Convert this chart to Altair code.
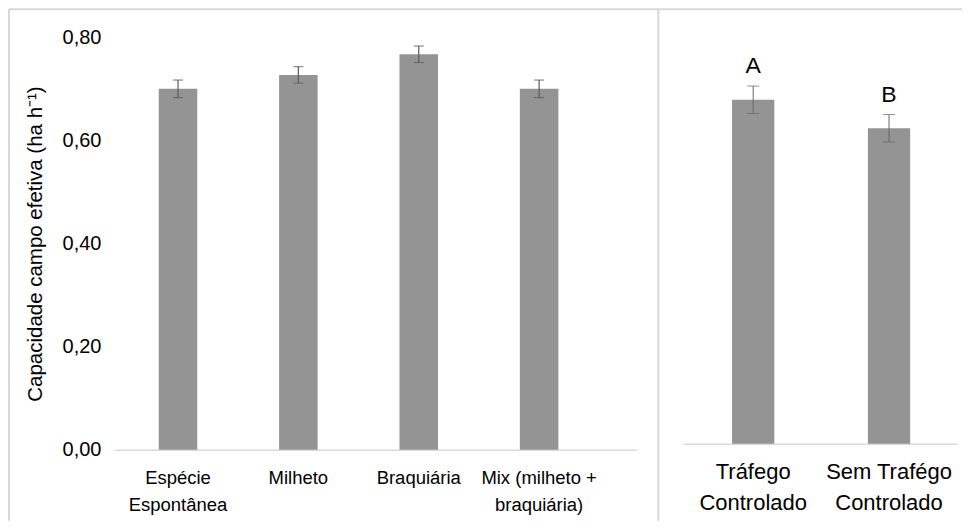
import altair as alt
import pandas as pd

# ---- data ----
left_categories = ["Espécie\nEspontânea", "Milheto", "Braquiária", "Mix (milheto +\nbraquiária)"]
left_values = [0.700, 0.727, 0.767, 0.700]
left_errors = [0.017, 0.016, 0.016, 0.017]

right_categories = ["Tráfego\nControlado", "Sem Trafégo\nControlado"]
right_values = [0.677, 0.621]
right_errors = [0.027, 0.027]
right_letters = ["A", "B"]

y_ticks = [0.0, 0.2, 0.4, 0.6, 0.8]
y_title = "Capacidade campo efetiva (ha h⁻¹)"

FONT = "Liberation Sans"
BAR = "#949494"
ERR = "#595959"
BORDER = "#d9d9d9"

ldf = pd.DataFrame({"cat": left_categories, "val": left_values, "err": left_errors})
rdf = pd.DataFrame({"cat": right_categories, "val": right_values, "err": right_errors,
                    "letter": right_letters})
deco = pd.DataFrame({"k": [0]})

# ---------------- left panel ----------------
base_l = alt.Chart(ldf).transform_calculate(
    lo="datum.val - datum.err", hi="datum.val + datum.err")

xl = alt.X("cat:N", sort=left_categories, title=None,
           scale=alt.Scale(paddingInner=0.68, paddingOuter=0.506, align=0.36),
           axis=alt.Axis(labelAngle=0, ticks=False, domainColor=BORDER, domainWidth=1.5,
                         labelFontSize=18.5, labelColor="#000000", labelPadding=19,
                         labelLineHeight=27, labelOverlap=False,
                         labelExpr="split(datum.label, '\\n')"))
ysc = alt.Scale(domain=[0, 0.8], nice=False, zero=True)
yl = alt.Y("val:Q", scale=ysc,
           axis=alt.Axis(values=y_ticks,
                         labelExpr="replace(format(datum.value, '.2f'), '.', ',')",
                         grid=False, domain=False, ticks=False, labelFontSize=20,
                         labelPadding=14, labelColor="#000000", title=y_title,
                         titleFontSize=20.5, titleFontWeight="normal", titleColor="#000000",
                         titlePadding=17))

bars_l = base_l.mark_bar(color=BAR).encode(x=xl, y=yl)
err_l = base_l.mark_rule(color=ERR, strokeWidth=1.2).encode(
    x=alt.X("cat:N", sort=left_categories), y=alt.Y("lo:Q", scale=ysc), y2="hi:Q")
cap_lo_l = base_l.mark_tick(color=ERR, size=10, thickness=1.2).encode(
    x=alt.X("cat:N", sort=left_categories), y=alt.Y("lo:Q", scale=ysc))
cap_hi_l = base_l.mark_tick(color=ERR, size=10, thickness=1.2).encode(
    x=alt.X("cat:N", sort=left_categories), y=alt.Y("hi:Q", scale=ysc))

# decorative frame (outer border + separator)
frame_left = alt.Chart(deco).mark_rule(color=BORDER, strokeWidth=2).encode(
    x=alt.value(-106), y=alt.value(-28), y2=alt.value(484))
frame_top = alt.Chart(deco).mark_rule(color=BORDER, strokeWidth=2).encode(
    x=alt.value(-106), x2=alt.value(848), y=alt.value(-28))
frame_sep = alt.Chart(deco).mark_rule(color=BORDER, strokeWidth=2).encode(
    x=alt.value(544), y=alt.value(-28), y2=alt.value(484))

left = alt.layer(bars_l, err_l, cap_lo_l, cap_hi_l, frame_left, frame_top, frame_sep).properties(
    width=522, height=413)

# ---------------- right panel ----------------
base_r = alt.Chart(rdf).transform_calculate(
    lo="datum.val - datum.err", hi="datum.val + datum.err")
xr = alt.X("cat:N", sort=right_categories, title=None,
           scale=alt.Scale(paddingInner=0.689, paddingOuter=0.352, align=0.51),
           axis=alt.Axis(labelAngle=0, ticks=False, domainColor=BORDER, domainWidth=1.5,
                         labelFontSize=22, labelColor="#000000", labelPadding=18,
                         labelLineHeight=31, labelOverlap=False,
                         labelExpr="split(datum.label, '\\n')"))
yr = alt.Y("val:Q", scale=ysc, axis=None)

bars_r = base_r.mark_bar(color=BAR).encode(x=xr, y=yr)
err_r = base_r.mark_rule(color="#666666", strokeWidth=1).encode(
    x=alt.X("cat:N", sort=right_categories), y=alt.Y("lo:Q", scale=ysc, axis=None), y2="hi:Q")
cap_lo_r = base_r.mark_tick(color="#666666", size=12, thickness=1).encode(
    x=alt.X("cat:N", sort=right_categories), y=alt.Y("lo:Q", scale=ysc, axis=None))
cap_hi_r = base_r.mark_tick(color="#666666", size=12, thickness=1).encode(
    x=alt.X("cat:N", sort=right_categories), y=alt.Y("hi:Q", scale=ysc, axis=None))
letters_r = base_r.mark_text(fontSize=23, baseline="alphabetic", dy=-13, color="#000000").encode(
    x=alt.X("cat:N", sort=right_categories), y=alt.Y("hi:Q", scale=ysc, axis=None),
    text="letter:N")

right = alt.layer(bars_r, err_r, cap_lo_r, cap_hi_r, letters_r).properties(
    width=274, height=407)

chart = alt.hconcat(left, right, spacing=47, bounds="flush").properties(
    padding=0, background="#ffffff"
).configure_view(stroke=None).configure_axis(
    labelFont=FONT, titleFont=FONT
).configure_text(font=FONT)

chart.save("out.html", embed_options={"renderer": "svg", "actions": False})
